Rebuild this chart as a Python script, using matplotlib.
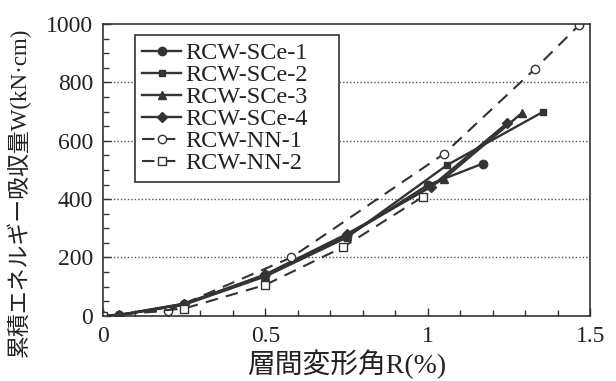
import numpy as np
import matplotlib
matplotlib.use("Agg")
import matplotlib.pyplot as plt
from matplotlib.ticker import MultipleLocator

# Datos (R en %, W en kN·cm)
R_sce1 = [0, 0.05, 0.25, 0.5, 0.75, 1.0, 1.17]
W_sce1 = [0, 3, 42, 140, 272, 448, 522]
R_sce2 = [0, 0.05, 0.25, 0.5, 0.75, 1.06, 1.355]
W_sce2 = [0, 3, 38, 135, 268, 517, 699]
R_sce3 = [0, 0.05, 0.25, 0.5, 0.75, 1.05, 1.29]
W_sce3 = [0, 2, 40, 138, 275, 470, 695]
R_sce4 = [0, 0.05, 0.25, 0.5, 0.75, 1.01, 1.245]
W_sce4 = [0, 3, 40, 142, 280, 442, 661]
R_nn1 = [0, 0.2, 0.58, 1.05, 1.33, 1.465]
W_nn1 = [0, 18, 200, 555, 846, 995]
R_nn2 = [0, 0.25, 0.5, 0.74, 0.985]
W_nn2 = [0, 25, 106, 236, 408]

labels = ["RCW-SCe-1", "RCW-SCe-2", "RCW-SCe-3", "RCW-SCe-4", "RCW-NN-1", "RCW-NN-2"]
grid_levels = [200, 400, 600, 800]

FONT = ["Liberation Serif", "Noto Sans CJK JP", "DejaVu Sans"]
plt.rcParams["font.family"] = FONT

COL = "#333333"
DASH = (0, (6, 4))

fig = plt.figure(figsize=(6.16, 3.81), dpi=100)
ax = fig.add_axes([0.167, 0.171, 0.791, 0.766])

for y in grid_levels:
    ax.axhline(y, color="#555555", linestyle=(0, (1, 1.5)), linewidth=1.0, zorder=0)

ax.plot(R_sce1, W_sce1, color=COL, lw=1.7, marker="o", ms=6, label=labels[0])
ax.plot(R_sce2, W_sce2, color=COL, lw=1.7, marker="s", ms=4, label=labels[1])
ax.plot(R_sce3, W_sce3, color=COL, lw=1.7, marker="^", ms=6, label=labels[2])
ax.plot(R_sce4, W_sce4, color=COL, lw=1.7, marker="D", ms=5, label=labels[3])
ax.plot(R_nn1, W_nn1, color=COL, lw=1.5, ls=DASH, marker="o", ms=6,
        mfc="white", label=labels[4])
ax.plot(R_nn2, W_nn2, color=COL, lw=1.5, ls=DASH, marker="s", ms=6,
        mfc="white", label=labels[5])

ax.set_xlim(0, 1.5)
ax.set_ylim(0, 1000)
ax.set_xticks([0, 0.5, 1, 1.5])
ax.set_xticklabels(["0", "0.5", "1", "1.5"])
ax.set_yticks([0, 200, 400, 600, 800, 1000])
ax.xaxis.set_minor_locator(MultipleLocator(0.1))
ax.yaxis.set_minor_locator(MultipleLocator(50))
ax.tick_params(which="both", direction="in", colors=COL, labelcolor="#222222",
               labelsize=17, pad=7)
ax.tick_params(which="major", length=6, width=1.0)
ax.tick_params(which="minor", length=4, width=1.0)
for s in ax.spines.values():
    s.set_color(COL)
    s.set_linewidth(1.2)

ax.set_xlabel("層間変形角R(%)", fontsize=20, color="#222222", labelpad=2)
ax.set_ylabel("累積エネルギー吸収量W(kN·cm)", fontsize=16.5, color="#222222")
ax.yaxis.set_label_coords(-0.148, 0.425)

leg = ax.legend(loc="upper left", bbox_to_anchor=(0.066, 0.5, 0.419, 0.462),
                mode="expand", fontsize=17.5,
                frameon=True, fancybox=False, edgecolor=COL, framealpha=1,
                handlelength=1.6, handletextpad=0.15, labelspacing=0.0,
                borderpad=0.3, borderaxespad=0)
leg.get_frame().set_linewidth(1.2)
for t in leg.get_texts():
    t.set_color("#222222")

fig.savefig("out.png", dpi=100)
